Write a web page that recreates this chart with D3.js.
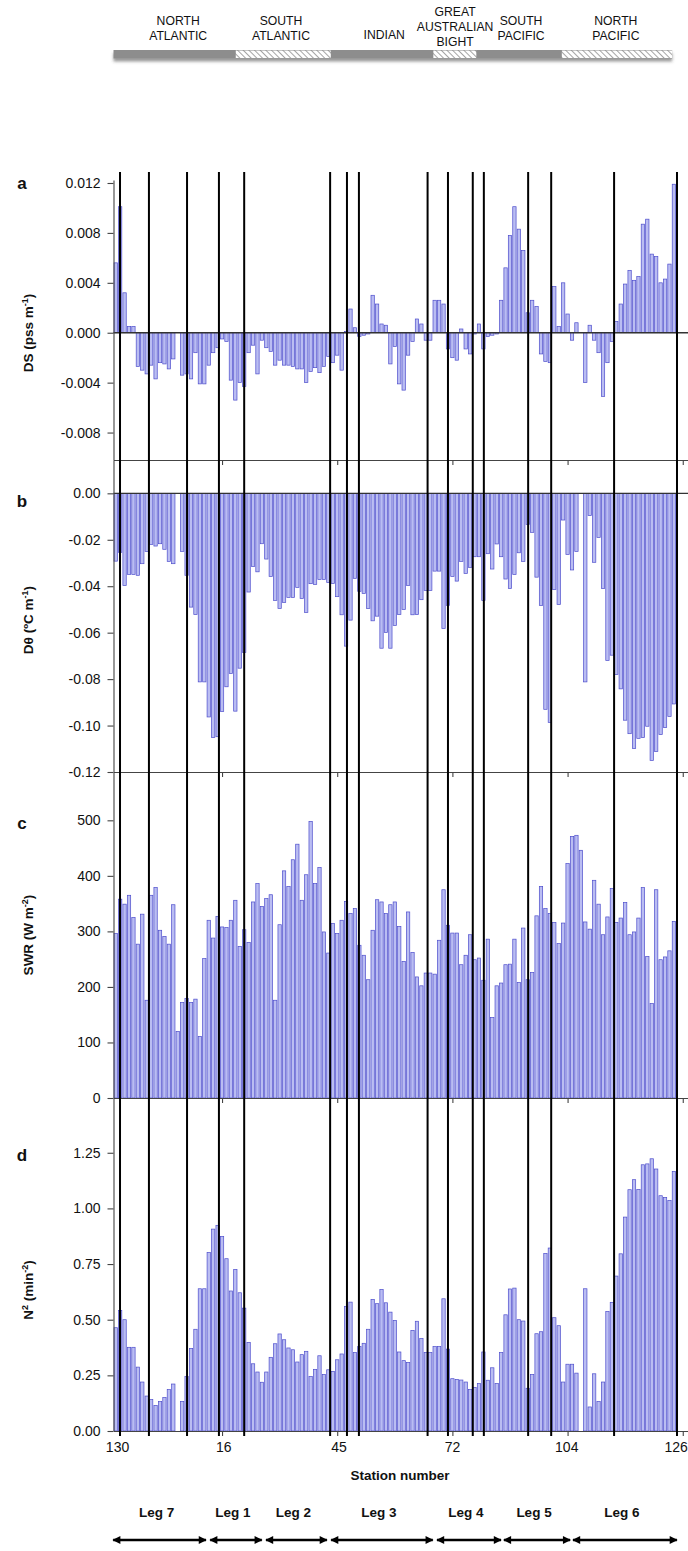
<!DOCTYPE html>
<html><head><meta charset="utf-8">
<script src="https://cdn.jsdelivr.net/npm/d3@7"></script>
<style>
body{margin:0;background:#fff}
svg{display:block}
text{font-family:"Liberation Sans",Arial,Helvetica,sans-serif;fill:#111}
</style>
</head><body>
<svg id="chart" width="688" height="1551"></svg>
<script>
// ---------------- DATA (station order along the x axis) ----------------
const dsValues = [
 0.0056, 0.0101, 0.0032, 0.0005, 0.0005, -0.0027, -0.0030, -0.0033, -0.0026, -0.0037,
 -0.0024, -0.0025, -0.0029, -0.0021, null, -0.0034, -0.0033, -0.0037, -0.0016, -0.0041,
 -0.0041, -0.0026, -0.0016, -0.0012, -0.0005, -0.0007, -0.0038, -0.0054, -0.0040, -0.0043,
 -0.0016, -0.0010, -0.0033, -0.0006, -0.0012, -0.0015, -0.0026, -0.0022, -0.0026, -0.0026,
 -0.0027, -0.0029, -0.0029, -0.0040, -0.0031, -0.0028, -0.0032, -0.0027, -0.0019, -0.0024,
 -0.0018, -0.0030, 0.0001, 0.0019, 0.0004, -0.0003, -0.0002, -0.0001, 0.0030, 0.0023,
 0.0007, 0.0006, -0.0025, -0.0011, -0.0041, -0.0046, -0.0018, -0.0007, 0.0011, 0.0007,
 -0.0006, -0.0006, 0.0026, 0.0026, 0.0023, -0.0013, -0.0020, -0.0022, 0.0003, -0.0013,
 -0.0017, -0.0001, 0.0007, -0.0013, -0.0003, -0.0002, -0.0001, 0.0026, 0.0052, 0.0078,
 0.0101, 0.0083, 0.0066, 0.0016, 0.0026, 0.0021, -0.0017, -0.0023, -0.0024, 0.0037,
 0.0005, 0.0040, 0.0015, -0.0006, 0.0008, null, -0.0040, 0.0006, -0.0006, -0.0016,
 -0.0051, -0.0024, -0.0007, 0.0009, 0.0023, 0.0039, 0.0050, 0.0042, 0.0045, 0.0087,
 0.0091, 0.0063, 0.0061, 0.0040, 0.0043, 0.0055, 0.0119
];
const dthetaValues = [
 -0.0292, -0.0254, -0.0397, -0.0349, -0.0349, -0.0353, -0.0303, -0.0250, -0.0220, -0.0227,
 -0.0217, -0.0241, -0.0293, -0.0303, null, -0.0250, -0.0353, -0.0490, -0.0522, -0.0812,
 -0.0812, -0.0963, -0.1052, -0.1048, -0.0940, -0.0833, -0.0776, -0.0938, -0.0753, -0.0685,
 -0.0425, -0.0315, -0.0338, -0.0217, -0.0283, -0.0358, -0.0461, -0.0496, -0.0470, -0.0448,
 -0.0448, -0.0405, -0.0453, -0.0513, -0.0389, -0.0392, -0.0371, -0.0371, -0.0384, -0.0388,
 -0.0445, -0.0523, -0.0658, -0.0546, -0.0366, -0.0422, -0.0431, -0.0496, -0.0549, -0.0529,
 -0.0667, -0.0599, -0.0667, -0.0569, -0.0522, -0.0500, -0.0397, -0.0523, -0.0522, -0.0458,
 -0.0418, -0.0418, -0.0335, -0.0335, -0.0582, -0.0483, -0.0358, -0.0378, -0.0293, -0.0345,
 -0.0319, -0.0273, -0.0273, -0.0461, -0.0260, -0.0326, -0.0218, -0.0273, -0.0369, -0.0410,
 -0.0349, -0.0256, -0.0293, -0.0134, -0.0168, -0.0361, -0.0483, -0.0930, -0.0987, -0.0414,
 -0.0479, -0.0115, -0.0263, -0.0330, -0.0250, null, -0.0812, -0.0096, -0.0297, -0.0190,
 -0.0410, -0.0720, -0.0697, -0.0780, -0.0842, -0.0977, -0.1035, -0.1099, -0.1055, -0.1052,
 -0.1003, -0.1150, -0.1112, -0.1039, -0.1009, -0.0961, -0.0907
];
const swrValues = [
 296, 358, 349, 365, 325, 277, 331, 176, 365, 379,
 302, 291, 277, 348, 120, 172, 179, 172, 178, 111,
 251, 320, 288, 327, 308, 307, 320, 356, 273, 303,
 280, 353, 386, 345, 359, 366, 176, 312, 409, 381,
 429, 457, 356, 402, 498, 386, 415, 299, 261, 314,
 296, 320, 354, 332, 341, 275, 257, 213, 302, 357,
 353, 332, 348, 353, 309, 246, 335, 262, 218, 202,
 225, 225, 223, 284, 375, 311, 297, 297, 240, 257,
 294, 249, 252, 212, 286, 145, 202, 207, 240, 241,
 286, 208, 306, 213, 226, 328, 381, 341, 332, 316,
 278, 315, 422, 471, 473, 446, 317, 304, 392, 349,
 294, 326, 377, 316, 324, 352, 294, 299, 324, 379,
 255, 170, 375, 249, 254, 265, 318
];
const n2Values = [
 0.464, 0.542, 0.500, 0.376, 0.376, 0.287, 0.220, 0.157, 0.141, 0.115,
 0.132, 0.150, 0.186, 0.211, null, 0.133, 0.245, 0.371, 0.457, 0.639,
 0.639, 0.802, 0.907, 0.924, 0.874, 0.774, 0.629, 0.726, 0.621, 0.552,
 0.398, 0.302, 0.265, 0.219, 0.265, 0.331, 0.392, 0.436, 0.410, 0.373,
 0.365, 0.310, 0.343, 0.358, 0.245, 0.277, 0.338, 0.254, 0.275, 0.268,
 0.320, 0.346, 0.560, 0.579, 0.352, 0.380, 0.394, 0.457, 0.591, 0.572,
 0.636, 0.576, 0.534, 0.497, 0.355, 0.316, 0.308, 0.452, 0.493, 0.415,
 0.352, 0.352, 0.379, 0.379, 0.594, 0.368, 0.235, 0.232, 0.229, 0.220,
 0.186, 0.196, 0.213, 0.355, 0.228, 0.284, 0.213, 0.352, 0.522, 0.638,
 0.642, 0.500, 0.494, 0.192, 0.254, 0.437, 0.446, 0.798, 0.822, 0.509,
 0.473, 0.220, 0.300, 0.300, 0.260, null, 0.639, 0.108, 0.257, 0.132,
 0.220, 0.537, 0.578, 0.696, 0.796, 0.961, 1.084, 1.129, 1.085, 1.196,
 1.200, 1.223, 1.177, 1.057, 1.049, 1.036, 1.166
];

// x-axis: station labels (in station-order units)
const stationTickLabels = ["130", "16", "45", "72", "104", "126"];
const stationTickLabelPos = [0.8, 24.8, 50.8, 76.4, 102.2, 126.9];
const stationTickMarks = [24.5, 50.5, 76.5, 102.5, 128.5];

// vertical boundary lines (station-order units)
const boundaryLines = [1.47, 8.0, 16.6, 23.8, 29.5, 48.9, 52.7, 55.4, 70.9, 75.5, 81.1, 83.6, 93.6, 98.8, 113.0, 127.2];

// cruise legs
const legNames = ["Leg 7", "Leg 1", "Leg 2", "Leg 3", "Leg 4", "Leg 5", "Leg 6"];
const legStart = [-0.3, 21.6, 34.2, 48.9, 72.8, 87.9, 103.5];
const legEnd   = [21.1, 33.7, 48.4, 72.3, 87.7, 103.3, 127.4];

// ocean regions (banner)
const regionNames = [["NORTH", "ATLANTIC"], ["SOUTH", "ATLANTIC"], ["INDIAN"], ["GREAT", "AUSTRALIAN", "BIGHT"], ["SOUTH", "PACIFIC"], ["NORTH", "PACIFIC"]];
const regionCenter = [14.6, 37.8, 61.1, 77.1, 92.0, 113.4];
const hatchedStart = [27.6, 72.2, 101.2];
const hatchedEnd = [49.05, 81.9, 126.1];
const bannerEnd = 126.1;

// ---------------- DRAWING ----------------
const svg = d3.select("#chart");

const x = d3.scaleLinear().domain([0, 130]).range([113.5, 689.4]);
const step = x(1) - x(0);

const defs = svg.append("defs");
const pat = defs.append("pattern").attr("id", "hatch").attr("patternUnits", "userSpaceOnUse")
  .attr("width", 4).attr("height", 4).attr("patternTransform", "rotate(-45)");
pat.append("rect").attr("width", 4).attr("height", 4).attr("fill", "#fff");
pat.append("line").attr("x1", 0).attr("y1", 0).attr("x2", 0).attr("y2", 4)
  .attr("stroke", "#959595").attr("stroke-width", 1.7);
const f = defs.append("filter").attr("id", "shadow").attr("x", "-5%").attr("y", "-50%").attr("width", "110%").attr("height", "250%");
f.append("feDropShadow").attr("dx", 0).attr("dy", 3).attr("stdDeviation", 1.6)
  .attr("flood-color", "#444").attr("flood-opacity", 0.55);

// Banner
const bannerY = 50, bannerH = 8.5;
svg.append("rect").attr("x", x(0)).attr("y", bannerY).attr("width", x(bannerEnd) - x(0)).attr("height", bannerH)
  .attr("fill", "#8d8d8d").attr("filter", "url(#shadow)");
svg.selectAll("rect.hatch").data(hatchedStart).join("rect").attr("class", "hatch")
  .attr("x", d => x(d)).attr("y", bannerY + 0.5)
  .attr("width", (d, i) => x(hatchedEnd[i]) - x(d)).attr("height", bannerH - 1)
  .attr("fill", "url(#hatch)");
regionNames.forEach((lines, i) => {
  const n = lines.length;
  const t = svg.append("text").attr("text-anchor", "middle").attr("font-size", 12.2).attr("fill", "#222");
  lines.forEach((ln, k) => {
    const baseY = n === 3 ? 15.5 + k * 15.2 : (n === 2 ? 25 + k * 14.5 : 38.5);
    t.append("tspan").attr("x", x(regionCenter[i])).attr("y", baseY).text(ln);
  });
});

// Panels
const panels = [
  { letter: "a", values: dsValues, domain: [-0.0102, 0.01224], top: 180, bottom: 460,
    ticks: [-0.008, -0.004, 0, 0.004, 0.008, 0.012], fmt: d => d.toFixed(3),
    title: [["DS (pss m", 0], ["-1", 1], [")", 0]], titleY: 333, letterY: 189, zero: true },
  { letter: "b", values: dthetaValues, domain: [-0.12, 0.01435], top: 460, bottom: 772,
    ticks: [-0.12, -0.10, -0.08, -0.06, -0.04, -0.02, 0], fmt: d => d.toFixed(2),
    title: [["D\u03b8 (\u00baC m", 0], ["-1", 1], [")", 0]], titleY: 620, letterY: 507, zero: true },
  { letter: "c", values: swrValues, domain: [0, 587], top: 772, bottom: 1098,
    ticks: [0, 100, 200, 300, 400, 500], fmt: d => String(d),
    title: [["SWR (W m", 0], ["-2", 1], [")", 0]], titleY: 935, letterY: 829, zero: false },
  { letter: "d", values: n2Values, domain: [0, 1.496], top: 1098, bottom: 1431,
    ticks: [0, 0.25, 0.5, 0.75, 1.0, 1.25], fmt: d => d.toFixed(2),
    title: [["N", 0], ["2", 1], [" (min", 0], ["-2", 1], [")", 0]], titleY: 1290, letterY: 1161, zero: false }
];

panels.forEach(p => {
  const y = d3.scaleLinear().domain(p.domain).range([p.bottom, p.top]);
  const g = svg.append("g");
  const data = p.values.map((v, i) => ({ i, v })).filter(d => d.v !== null);
  g.selectAll("rect").data(data).join("rect")
    .attr("x", d => x(d.i) + 0.55)
    .attr("width", step - 1.1)
    .attr("y", d => y(Math.max(0, d.v)))
    .attr("height", d => Math.abs(y(d.v) - y(0)))
    .attr("fill", "#babdf2")
    .attr("stroke", "#4d4dcc")
    .attr("stroke-width", 0.7);

  if (p.zero) {
    g.append("line").attr("x1", x(0)).attr("x2", x(130)).attr("y1", y(0)).attr("y2", y(0))
      .attr("stroke", "#333").attr("stroke-width", 1.3);
  }

  // left axis
  const ya = g.append("g").attr("transform", `translate(${x(0)},0)`)
    .call(d3.axisLeft(y).tickValues(p.ticks).tickFormat(p.fmt).tickSize(6).tickSizeOuter(0).tickPadding(7));
  ya.selectAll("text").attr("font-size", 14).attr("fill", "#222");
  ya.selectAll("line,path").attr("stroke", "#444").attr("stroke-width", 1.1);

  // bottom axis
  const xa = g.append("g").attr("transform", `translate(0,${p.bottom})`)
    .call(d3.axisBottom(x).tickValues(stationTickMarks).tickFormat("").tickSize(5).tickSizeOuter(0));
  xa.selectAll("line,path").attr("stroke", "#444").attr("stroke-width", 1.1);

  // titles
  const t = svg.append("text").attr("transform", `translate(33,${p.titleY}) rotate(-90)`)
    .attr("text-anchor", "middle").attr("font-weight", "bold").attr("font-size", 13.5);
  p.title.forEach(([s, sup], k) => {
    const ts = t.append("tspan").text(s);
    if (sup) ts.attr("font-size", 9).attr("dy", -5);
    else if (k > 0 && p.title[k - 1][1]) ts.attr("dy", 5);
  });
  svg.append("text").attr("x", 22).attr("y", p.letterY).attr("text-anchor", "middle")
    .attr("font-weight", "bold").attr("font-size", 17).text(p.letter);
});

// x tick labels
const xl = svg.append("g").attr("transform", "translate(0,1431)")
  .call(d3.axisBottom(x).tickValues(stationTickLabelPos).tickSize(0).tickPadding(11)
    .tickFormat((d, i) => stationTickLabels[i]));
xl.select(".domain").remove();
xl.selectAll("text").attr("font-size", 14).attr("fill", "#222");

svg.append("text").attr("x", 400).attr("y", 1480).attr("text-anchor", "middle")
  .attr("font-weight", "bold").attr("font-size", 13.5).text("Station number");

// boundary lines
svg.selectAll("line.bound").data(boundaryLines).join("line").attr("class", "bound")
  .attr("x1", d => x(d)).attr("x2", d => x(d)).attr("y1", 172).attr("y2", 1436)
  .attr("stroke", "#000").attr("stroke-width", 2);

// leg arrows
const mk = (id, orient) => defs.append("marker").attr("id", id).attr("viewBox", "0 0 10 10")
  .attr("refX", 9).attr("refY", 5).attr("markerWidth", 4).attr("markerHeight", 3.2)
  .attr("orient", orient).append("path").attr("d", "M0,0 L10,5 L0,10 z").attr("fill", "#000");
mk("arrEnd", "auto");
mk("arrStart", "auto-start-reverse");
const arrowY = 1540;
svg.selectAll("line.leg").data(legNames).join("line").attr("class", "leg")
  .attr("x1", (d, i) => x(legStart[i]) + 1).attr("x2", (d, i) => x(legEnd[i]) - 1)
  .attr("y1", arrowY).attr("y2", arrowY)
  .attr("stroke", "#000").attr("stroke-width", 2.5)
  .attr("marker-start", "url(#arrStart)").attr("marker-end", "url(#arrEnd)");
svg.selectAll("text.leg").data(legNames).join("text").attr("class", "leg")
  .attr("x", (d, i) => x((legStart[i] + legEnd[i]) / 2) - 3).attr("y", 1517)
  .attr("text-anchor", "middle").attr("font-weight", "bold").attr("font-size", 13.5).text(d => d);
</script>
</body></html>
